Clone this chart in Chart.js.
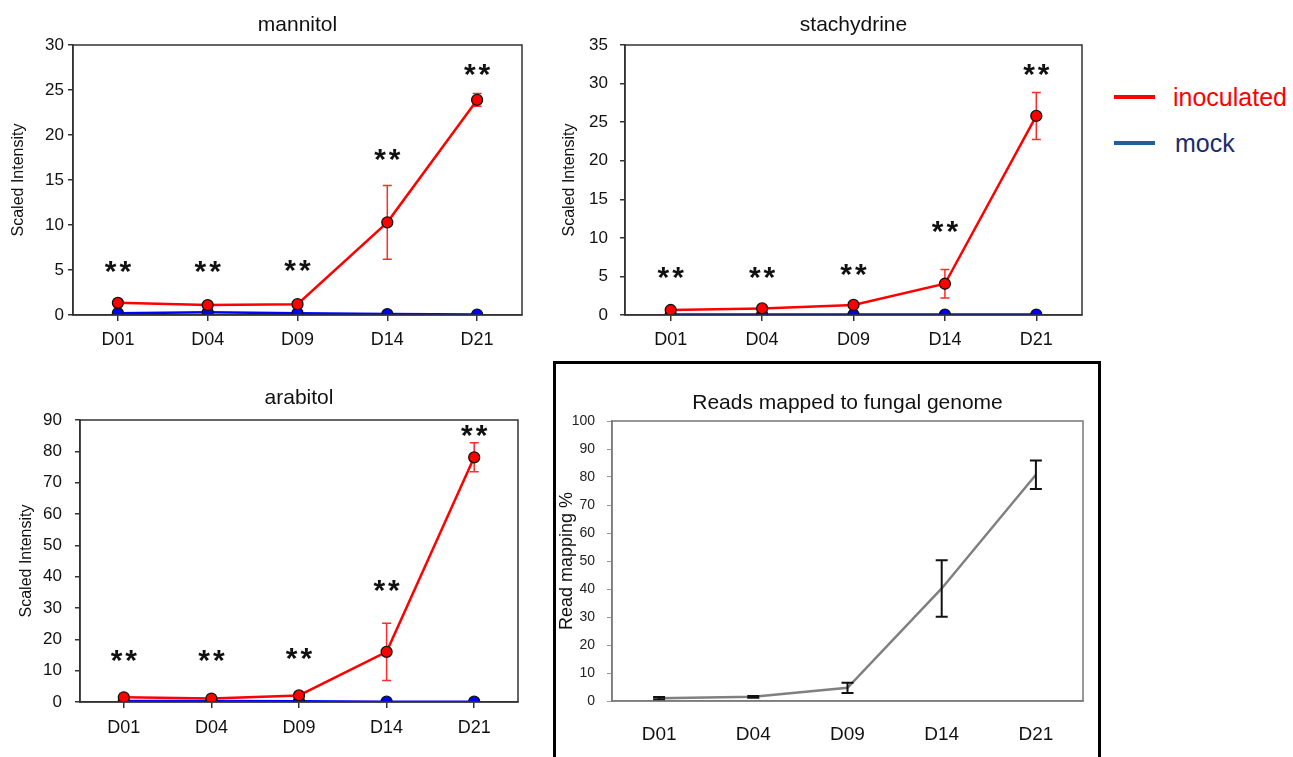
<!DOCTYPE html>
<html>
<head>
<meta charset="utf-8">
<script src="https://cdn.jsdelivr.net/npm/chart.js@4.4.1/dist/chart.umd.min.js"></script>
<style>
  html, body { margin: 0; padding: 0; background: #fff; }
  body { width: 1293px; height: 757px; position: relative; overflow: hidden; font-family: 'Liberation Sans', Arial, sans-serif; }
  canvas { position: absolute; }
  .frame { position: absolute; left: 553px; top: 361px; width: 542px; height: 420px; border: 3px solid #000; box-sizing: content-box; }
  .legend-item { position: absolute; left: 1114px; height: 30px; display: flex; align-items: center; font-size: 25px; }
  .legend-item .swatch { width: 41px; height: 4px; margin-right: 18px; }
</style>
</head>
<body>
<div class="frame"></div>
<canvas id="mannitol" width="540" height="360" style="left:0;top:0"></canvas>
<canvas id="stachydrine" width="560" height="360" style="left:540px;top:0"></canvas>
<canvas id="arabitol" width="540" height="387" style="left:0;top:370px"></canvas>
<canvas id="reads" width="540" height="393" style="left:556px;top:364px"></canvas>

<div class="legend-item" style="top:82px;color:#ff0000"><div class="swatch" style="background:#ff0000"></div>inoculated</div>
<div class="legend-item" style="top:128px;color:#1c2b6b"><div class="swatch" style="background:#1f5fa0;margin-right:20px"></div>mock</div>

<script>
// time points shared by all panels
const days = ['D01', 'D04', 'D09', 'D14', 'D21'];

// mannitol
const mannitolInoc = [1.35, 1.1, 1.2, 10.3, 23.9];
const mannitolInocErr = [0.4, 0.2, 0.2, 4.1, 0.7];
const mannitolMock = [0.2, 0.3, 0.2, 0.1, 0.05];
const mannitolStars = [5.2, 5.2, 5.4, 17.7, 27.1];

// stachydrine
const stachInoc = [0.65, 0.85, 1.3, 4.05, 25.8];
const stachInocErr = [0.2, 0.2, 0.3, 1.85, 3.05];
const stachMock = [0.05, 0.05, 0.05, 0.05, 0.05];
const stachStars = [5.4, 5.4, 5.7, 11.3, 31.6];

// arabitol
const arabInoc = [1.5, 1.1, 2.1, 16.0, 78.1];
const arabInocErr = [0.4, 0.3, 0.5, 9.15, 4.65];
const arabMock = [0.3, 0.3, 0.2, 0.1, 0.1];
const arabStars = [14.4, 14.4, 15.0, 36.7, 86.2];

// reads mapped to fungal genome (%)
const readsMapped = [1.0, 1.5, 4.7, 40.2, 80.8];
const readsErr = [0.4, 0.3, 1.8, 10.1, 5.1];

const FONT = "'Liberation Sans', Arial, sans-serif";
Chart.defaults.font.family = FONT;
Chart.defaults.color = '#1a1a1a';

// draws error bars through the chart's own scales
function drawErrors(chart, opts) {
  const ctx = chart.ctx;
  const x = chart.scales.x, y = chart.scales.y;
  chart.data.datasets.forEach(ds => {
    if (!ds.errors) return;
    ctx.save();
    ctx.strokeStyle = opts.color || ds.borderColor;
    ctx.lineWidth = opts.width || 1.5;
    ds.data.forEach((v, i) => {
      const e = ds.errors[i];
      if (!e) return;
      const px = x.getPixelForValue(i);
      const top = y.getPixelForValue(v + e);
      const bot = y.getPixelForValue(Math.max(0, v - e));
      const c = opts.cap || 4;
      ctx.beginPath();
      ctx.moveTo(px, top); ctx.lineTo(px, bot);
      ctx.moveTo(px - c, top); ctx.lineTo(px + c, top);
      ctx.moveTo(px - c, bot); ctx.lineTo(px + c, bot);
      ctx.stroke();
    });
    ctx.restore();
  });
}

const errorBars = {
  id: 'errorBars',
  beforeDatasetsDraw(chart, args, opts) { if (!opts.onTop) drawErrors(chart, opts); },
  afterDatasetsDraw(chart, args, opts) { if (opts.onTop) drawErrors(chart, opts); }
};

// significance marks above each time point
const stars = {
  id: 'stars',
  afterDatasetsDraw(chart, args, opts) {
    if (!opts.levels) return;
    const ctx = chart.ctx;
    const x = chart.scales.x, y = chart.scales.y;
    const size = opts.size || 30;
    const gap = opts.gap || 3;
    ctx.save();
    ctx.fillStyle = '#111';
    ctx.font = 'bold ' + size + 'px ' + FONT;
    ctx.letterSpacing = gap + 'px';
    ctx.textAlign = 'center';
    ctx.textBaseline = 'alphabetic';
    opts.levels.forEach((lv, i) => {
      ctx.fillText('**', x.getPixelForValue(i) + gap / 2, y.getPixelForValue(lv) + size * 0.44);
    });
    ctx.restore();
  }
};

// box round the plot area
const plotBox = {
  id: 'plotBox',
  afterDatasetsDraw(chart, args, opts) {
    const a = chart.chartArea;
    const ctx = chart.ctx;
    ctx.save();
    ctx.strokeStyle = opts.color || '#333';
    ctx.lineWidth = opts.width || 1.5;
    ctx.strokeRect(a.left, a.top, a.right - a.left, a.bottom - a.top);
    ctx.restore();
  }
};

function metaboliteChart(id, title, yMax, inoc, inocErr, mock, starLevels, lay) {
  return new Chart(document.getElementById(id), {
    type: 'line',
    plugins: [errorBars, stars, plotBox],
    data: {
      labels: days,
      datasets: [
        {
          label: 'inoculated',
          data: inoc,
          errors: inocErr,
          borderColor: '#ff0000',
          borderWidth: 2.5,
          pointBackgroundColor: '#ff0000',
          pointBorderColor: '#111',
          pointBorderWidth: 1.3,
          pointRadius: 5.5,
          tension: 0,
          clip: 0
        },
        {
          label: 'mock',
          data: mock,
          borderColor: '#0000ff',
          borderWidth: 2.5,
          pointBackgroundColor: '#0000ff',
          pointBorderColor: '#111',
          pointBorderWidth: 1.3,
          pointRadius: 5.5,
          tension: 0,
          clip: 0
        }
      ]
    },
    options: {
      responsive: false,
      animation: false,
      layout: { padding: { left: 0, top: 0, bottom: 0, right: lay.right } },
      plugins: {
        legend: { display: false },
        tooltip: { enabled: false },
        title: {
          display: true,
          text: title,
          fullSize: false,
          color: '#111',
          font: { size: 21, weight: 'normal' },
          padding: { top: lay.titleTop, bottom: lay.titleBottom }
        },
        errorBars: { color: '#ff2a2a', width: 1.5, cap: 4.5, onTop: false },
        stars: { levels: starLevels, size: 30, gap: 3 },
        plotBox: { color: '#333', width: 1.5 }
      },
      scales: {
        x: {
          offset: true,
          grid: { drawOnChartArea: false, drawTicks: true, tickLength: 6, offset: false, color: '#333', lineWidth: 1.5 },
          border: { color: '#333', width: 1.5 },
          ticks: { color: '#111', font: { size: 18 }, padding: lay.xPad },
          afterFit: s => { s.height = lay.xHeight; }
        },
        y: {
          min: 0,
          max: yMax,
          ticks: { stepSize: yMax / 6 > 10 ? 10 : 5, color: '#111', font: { size: 17 }, padding: lay.yPad },
          grid: { drawOnChartArea: false, drawTicks: true, tickLength: 5, color: '#333', lineWidth: 1.5 },
          border: { color: '#333', width: 1.5 },
          title: { display: true, text: 'Scaled Intensity', color: '#111', font: { size: 16 }, padding: lay.yTitlePad },
          afterFit: s => { s.width = lay.yWidth; }
        }
      }
    }
  });
}

metaboliteChart('mannitol', 'mannitol', 30, mannitolInoc, mannitolInocErr, mannitolMock, mannitolStars,
  { right: 18, titleTop: 12.4, titleBottom: 7.4, xHeight: 45, xPad: 8, yWidth: 73, yPad: 4, yTitlePad: 9 });

metaboliteChart('stachydrine', 'stachydrine', 35, stachInoc, stachInocErr, stachMock, stachStars,
  { right: 18, titleTop: 12.4, titleBottom: 7.4, xHeight: 45, xPad: 8, yWidth: 85, yPad: 12, yTitlePad: 20 });

metaboliteChart('arabitol', 'arabitol', 90, arabInoc, arabInocErr, arabMock, arabStars,
  { right: 22, titleTop: 15.4, titleBottom: 9.4, xHeight: 55, xPad: 9, yWidth: 80, yPad: 13, yTitlePad: 17 });

new Chart(document.getElementById('reads'), {
  type: 'line',
  plugins: [plotBox, errorBars],
  data: {
    labels: days,
    datasets: [{
      label: 'Read mapping %',
      data: readsMapped,
      errors: readsErr,
      borderColor: '#808080',
      borderWidth: 2.5,
      pointRadius: 0,
      tension: 0
    }]
  },
  options: {
    responsive: false,
    animation: false,
    layout: { padding: { left: 0, top: 0, bottom: 0, right: 13 } },
    plugins: {
      legend: { display: false },
      tooltip: { enabled: false },
      title: {
        display: true,
        text: 'Reads mapped to fungal genome',
        fullSize: false,
        color: '#111',
        font: { size: 21, weight: 'normal' },
        padding: { top: 26.4, bottom: 5.4 }
      },
      plotBox: { color: '#777', width: 1.5 },
      errorBars: { color: '#111', width: 2, cap: 6, onTop: true }
    },
    scales: {
      x: {
        offset: true,
        grid: { display: false, drawTicks: false },
        border: { color: '#888', width: 1.5 },
        ticks: { color: '#111', font: { size: 19 }, padding: 22 },
        afterFit: s => { s.height = 56; }
      },
      y: {
        min: 0,
        max: 100,
        ticks: { stepSize: 10, color: '#222', font: { size: 14 }, padding: 12 },
        grid: { drawOnChartArea: false, drawTicks: true, tickLength: 5, color: '#999' },
        border: { color: '#888', width: 1.5 },
        title: { display: true, text: 'Read mapping %', color: '#111', font: { size: 18 }, padding: 0 },
        afterFit: s => { s.width = 56; }
      }
    }
  }
});
</script>
</body>
</html>
